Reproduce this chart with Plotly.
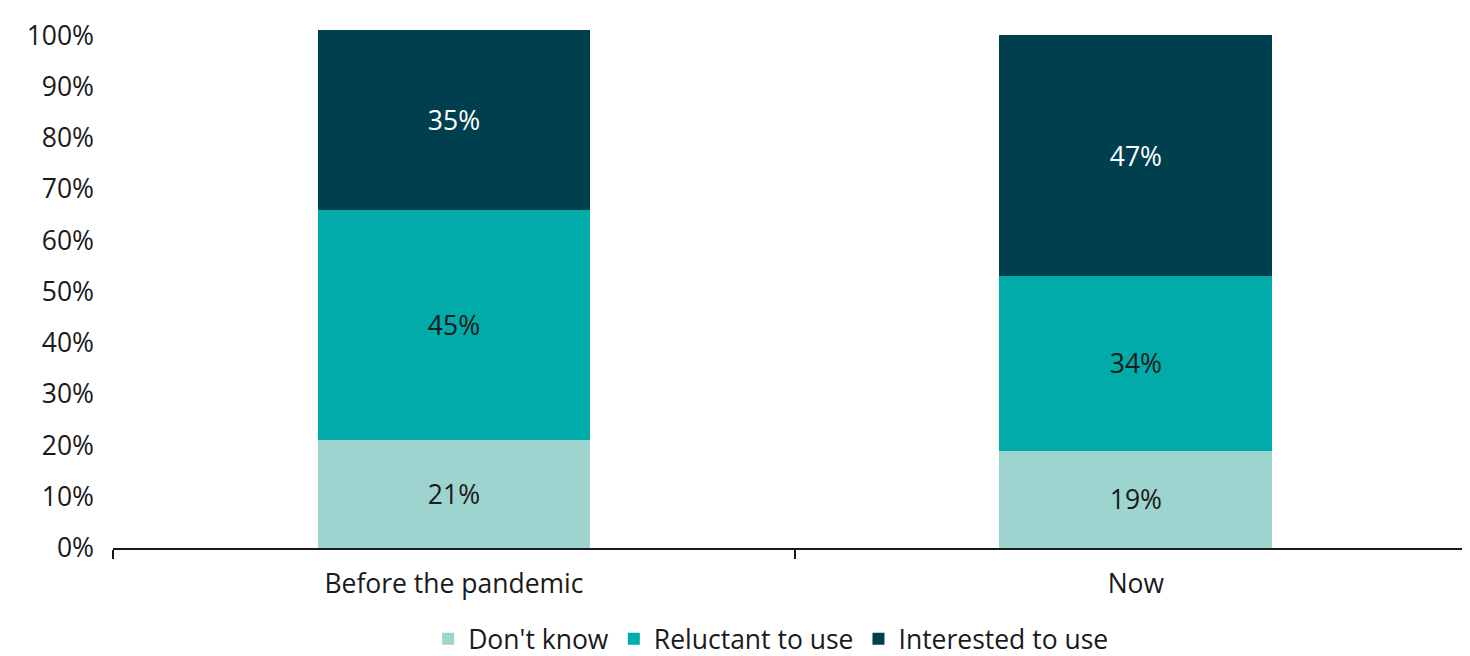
import plotly.graph_objects as go

categories = ["Before the pandemic", "Now"]
dont_know = [21, 19]
reluctant = [45, 34]
interested = [35, 47]
series_names = ["Don't know", "Reluctant to use", "Interested to use"]
y_ticks = [0, 10, 20, 30, 40, 50, 60, 70, 80, 90, 100]
y_tick_labels = [f"{v}%" for v in y_ticks]

colors = ["#9ED4CF", "#00ABAA", "#00404E"]
text_colors = ["#1a1a1a", "#1a1a1a", "#ffffff"]
FONT = "Open Sans"
FS = 26.5

fig = go.Figure()
for name, vals, c, tc in zip(series_names, [dont_know, reluctant, interested], colors, text_colors):
    fig.add_trace(go.Bar(
        x=categories, y=vals, name=name,
        marker=dict(color=c, line=dict(width=0)),
        width=0.4,
        text=[f"{v}%" for v in vals],
        textposition="inside", insidetextanchor="middle",
        textfont=dict(family=FONT, size=FS, color=tc),
        hoverinfo="skip",
    ))

fig.update_layout(
    barmode="stack",
    width=1462, height=648,
    margin=dict(l=105, r=0, t=17, b=108, autoexpand=False),
    paper_bgcolor="white", plot_bgcolor="white",
    font=dict(family=FONT, size=FS, color="#1a1a1a"),
    showlegend=True,
    legend=dict(orientation="h", xref="paper", yref="paper",
                x=0.485, xanchor="center", y=-0.174, yanchor="middle",
                traceorder="normal", font=dict(family=FONT, size=FS, color="#1a1a1a"),
                itemwidth=30),
    xaxis=dict(type="category", range=[-0.5, 1.49], showline=True, linecolor="#1a1a1a",
               linewidth=2, ticks="outside", tickson="boundaries", ticklen=9,
               tickcolor="#1a1a1a", tickwidth=2, showgrid=False, automargin=False,
               ticklabelstandoff=11,
               tickfont=dict(family=FONT, size=FS, color="#1a1a1a")),
    yaxis=dict(range=[0, 102], tickvals=y_ticks, ticktext=y_tick_labels,
               showgrid=False, zeroline=False, showline=False, ticks="",
               ticklabelstandoff=18, automargin=False,
               tickfont=dict(family=FONT, size=FS, color="#1a1a1a")),
)

fig.write_html("out.html")
